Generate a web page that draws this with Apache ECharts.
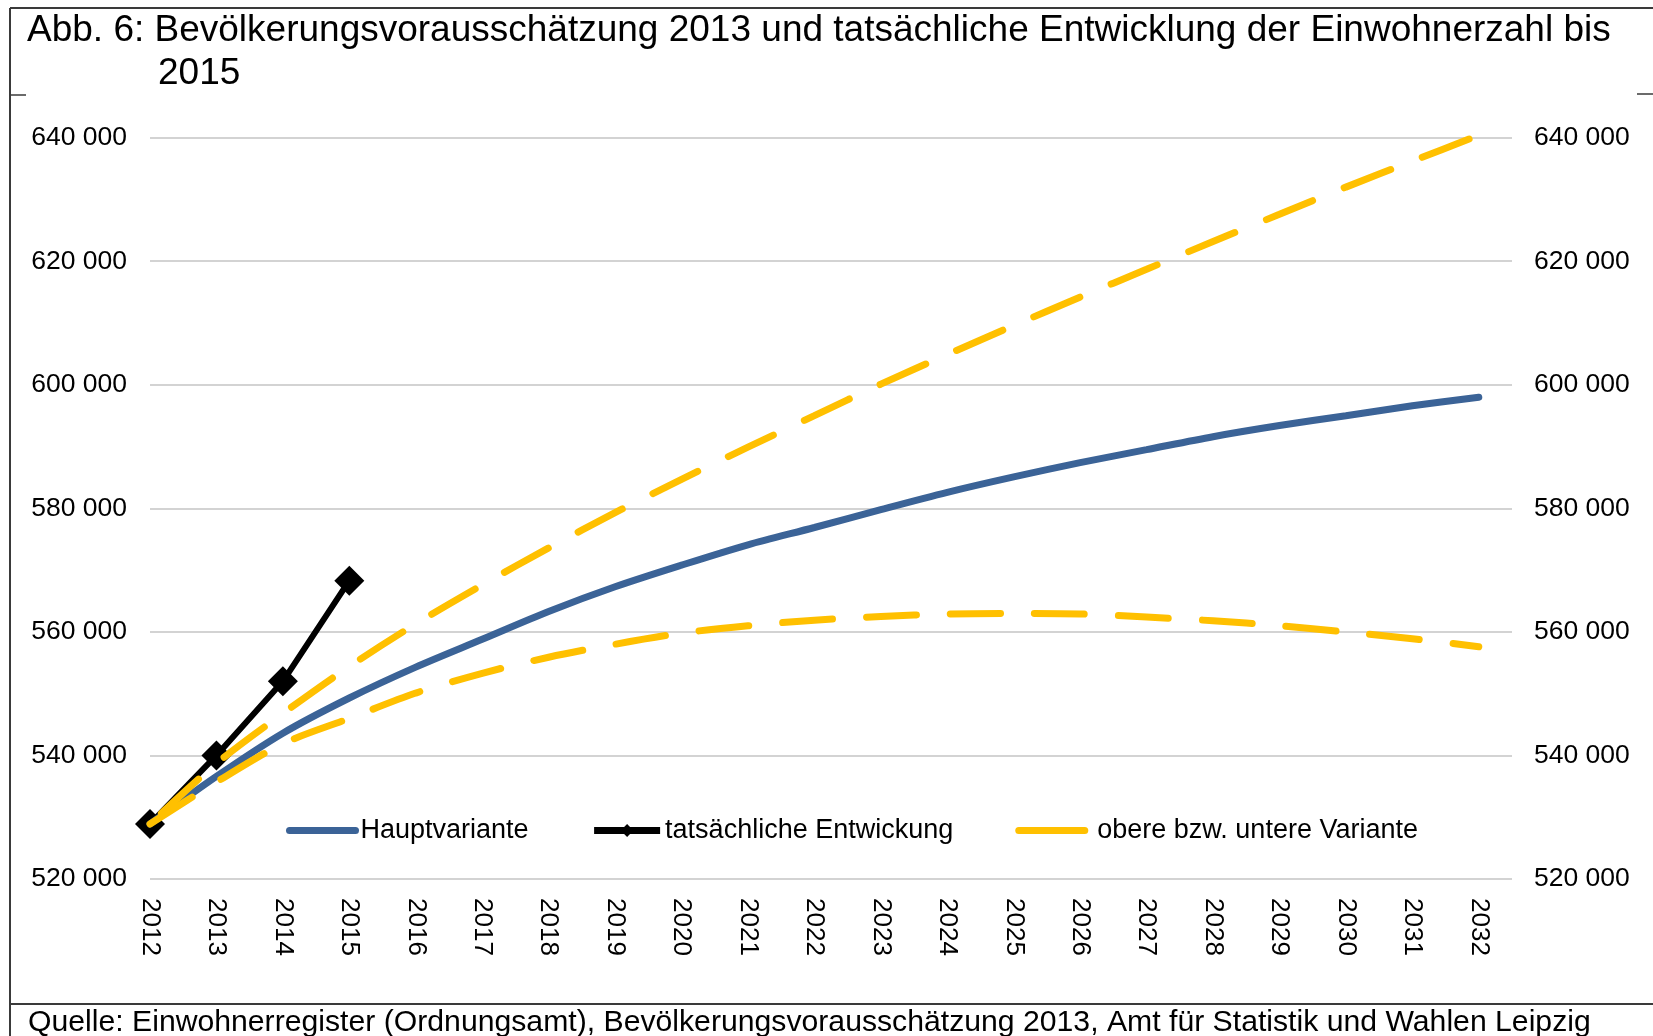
<!DOCTYPE html>
<html>
<head>
<meta charset="utf-8">
<script src="https://cdn.jsdelivr.net/npm/echarts@6/dist/echarts.min.js"></script>
<style>
  html, body { margin: 0; padding: 0; background: #fff; }
  #chart { width: 1653px; height: 1036px; }
</style>
</head>
<body>
<div id="chart"></div>
<script>
// Jahre der x-Achse
const years = [2012, 2013, 2014, 2015, 2016, 2017, 2018, 2019, 2020, 2021, 2022,
  2023, 2024, 2025, 2026, 2027, 2028, 2029, 2030, 2031, 2032];

// Bevölkerungsvorausschätzung 2013
const hauptvariante = [528900, 536600, 543600, 549300, 554300, 558800, 563300, 567300,
  570800, 574100, 576900, 579800, 582600, 585100, 587400, 589500, 591600, 593400,
  595000, 596600, 598000];
const obereVariante = [528900, 538700, 546800, 554400, 561300, 567600, 573600, 579300,
  584700, 589900, 595000, 600100, 604900, 609600, 614200, 618700, 623200, 627600,
  632000, 636200, 640400];
const untereVariante = [528900, 535700, 541900, 546000, 550100, 553300, 555900, 558000,
  559800, 561000, 561900, 562500, 562900, 563000, 562900, 562400, 561800, 561000,
  560000, 558900, 557600];

// tatsächliche Entwicklung 2012-2015
const istYears = [2012, 2013, 2014, 2015];
const istWerte = [528900, 540000, 552000, 568300];

const yTicks = {min: 520000, max: 640000, interval: 20000};

const NAME_HAUPT = "Hauptvariante";
const NAME_IST = "tatsächliche Entwickung";
const NAME_VAR = "obere bzw. untere Variante";

const FONT = "Liberation Sans, Arial, sans-serif";
const BLUE = "#3b6397";
const GOLD = "#ffc000";

const pairs = (xs, vs) => xs.map((x, i) => [x, vs[i]]);
const fmt = v => String(v).replace(/\B(?=(\d{3})+(?!\d))/g, " ");

const chart = echarts.init(document.getElementById("chart"));

const dashed = {
  type: [50, 34],
  width: 7,
  color: GOLD,
  cap: "round",
};

const option = {
  backgroundColor: "#fff",
  animation: false,
  textStyle: {fontFamily: FONT},
  title: [
    {
      text: "Abb. 6: Bevölkerungsvorausschätzung 2013 und tatsächliche Entwicklung der Einwohnerzahl bis",
      left: 27, top: 12, padding: 0,
      textStyle: {fontFamily: FONT, fontSize: 37, fontWeight: "normal", color: "#000"},
    },
    {
      text: "2015",
      left: 158, top: 55, padding: 0,
      textStyle: {fontFamily: FONT, fontSize: 37, fontWeight: "normal", color: "#000"},
    },
    {
      text: "Quelle: Einwohnerregister (Ordnungsamt), Bevölkerungsvorausschätzung 2013, Amt für Statistik und Wahlen Leipzig",
      left: 28, top: 1008, padding: 0,
      textStyle: {fontFamily: FONT, fontSize: 30.2, fontWeight: "normal", color: "#000"},
    },
  ],
  graphic: [
    {type: "line", shape: {x1: 10, y1: 8, x2: 1653, y2: 8}, style: {stroke: "#3a3a3a", lineWidth: 2}},
    {type: "line", shape: {x1: 10, y1: 8, x2: 10, y2: 1036}, style: {stroke: "#3a3a3a", lineWidth: 2}},
    {type: "line", shape: {x1: 10, y1: 95, x2: 26, y2: 95}, style: {stroke: "#3a3a3a", lineWidth: 1.5}},
    {type: "line", shape: {x1: 1637, y1: 94, x2: 1653, y2: 94}, style: {stroke: "#3a3a3a", lineWidth: 1.5}},
    {type: "line", shape: {x1: 10, y1: 1004, x2: 1653, y2: 1004}, style: {stroke: "#3a3a3a", lineWidth: 2}},
  ],
  grid: {left: 150, right: 141, top: 137.7, bottom: 157, containLabel: false},
  legend: {
    left: 286, top: 817, padding: 0,
    itemWidth: 66, itemHeight: 16, itemGap: 62,
    textStyle: {fontFamily: FONT, fontSize: 27, color: "#000"},
    formatter: name => (name === NAME_VAR ? " " + name : name),
    data: [
      {name: NAME_HAUPT, itemStyle: {opacity: 0},
        lineStyle: {color: BLUE, width: 7, cap: "round", type: "solid"}},
      {name: NAME_IST, lineStyle: {color: "#000", width: 7, type: "solid"}},
      {name: NAME_VAR, itemStyle: {opacity: 0},
        lineStyle: {color: GOLD, width: 7, cap: "round", type: "solid"}},
    ],
  },
  xAxis: {
    type: "value",
    min: 2012, max: 2032.5, interval: 1,
    axisLine: {show: false},
    axisTick: {show: false},
    splitLine: {show: false},
    axisLabel: {
      rotate: -90, margin: 19, fontSize: 26, color: "#000", fontFamily: FONT,
      showMaxLabel: false,
      formatter: v => (Number.isInteger(v) ? String(v) : ""),
    },
  },
  yAxis: [
    {
      type: "value", position: "left", ...yTicks,
      axisLine: {show: false}, axisTick: {show: false},
      splitLine: {lineStyle: {color: "#c4c4c4", width: 1.5}},
      axisLabel: {margin: 23, fontSize: 26.5, color: "#000", fontFamily: FONT, formatter: fmt},
    },
    {
      type: "value", position: "right", ...yTicks,
      axisLine: {show: false}, axisTick: {show: false},
      splitLine: {show: false},
      axisLabel: {margin: 22, fontSize: 26.5, color: "#000", fontFamily: FONT, formatter: fmt},
    },
  ],
  series: [
    {
      name: NAME_IST, type: "line",
      data: pairs(istYears, istWerte),
      symbol: "diamond", symbolSize: 30,
      itemStyle: {color: "#000"},
      lineStyle: {color: "#000", width: 6},
      z: 2,
    },
    {
      name: NAME_HAUPT, type: "line",
      data: pairs(years, hauptvariante),
      symbol: "none", smooth: 0.3,
      itemStyle: {color: BLUE},
      lineStyle: {color: BLUE, width: 7, cap: "round"},
      z: 3,
    },
    {
      name: NAME_VAR, type: "line",
      data: pairs(years, obereVariante),
      symbol: "none", smooth: 0.3,
      itemStyle: {color: GOLD},
      lineStyle: {...dashed, dashOffset: 68},
      z: 4,
    },
    {
      name: NAME_VAR, type: "line",
      data: pairs(years, untereVariante),
      symbol: "none", smooth: 0.3,
      itemStyle: {color: GOLD},
      lineStyle: dashed,
      z: 4,
    },
  ],
};

chart.setOption(option);
</script>
</body>
</html>
